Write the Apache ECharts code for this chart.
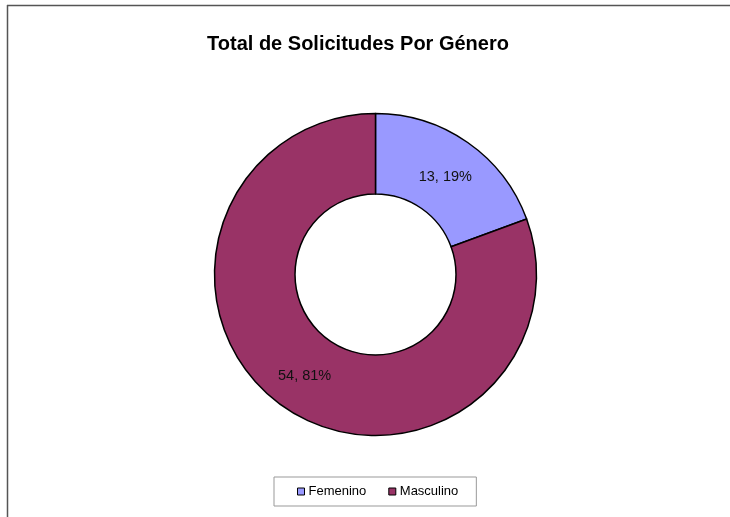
<!DOCTYPE html>
<html>
<head>
<meta charset="utf-8">
<script src="https://cdn.jsdelivr.net/npm/echarts@6/dist/echarts.min.js"></script>
<style>
html,body{margin:0;padding:0;background:#fff;}
#c{width:730px;height:517px;}
</style>
</head>
<body>
<div id="c"></div>
<script>
var titleText = 'Total de Solicitudes Por Género';
var categories = ['Femenino', 'Masculino'];
var values = [13, 54];
var colors = ['#9999FF', '#993366'];

var chart = echarts.init(document.getElementById('c'), null, {renderer: 'canvas'});
var font = '"Liberation Sans", Arial, sans-serif';
var labelOffsets = [[-1, 4], [0, 0]];
chart.setOption({
  animation: false,
  backgroundColor: '#fff',
  textStyle: {fontFamily: font},
  title: {
    text: titleText,
    left: 358,
    textAlign: 'center',
    top: 34,
    padding: 0,
    textStyle: {fontFamily: font, fontSize: 20, fontWeight: 'bold', color: '#000'}
  },
  legend: {
    data: categories,
    left: 274,
    top: 477,
    orient: 'horizontal',
    borderColor: '#999',
    borderWidth: 1,
    padding: [8, 18, 8, 23],
    itemWidth: 7,
    itemHeight: 7,
    itemGap: 22,
    icon: 'rect',
    itemStyle: {borderColor: '#000', borderWidth: 1},
    textStyle: {fontFamily: font, fontSize: 13, color: '#000', padding: [0, 0, 0, -1]}
  },
  graphic: [
    {type: 'line', shape: {x1: 7, y1: 5.5, x2: 730, y2: 5.5}, style: {stroke: '#555', lineWidth: 1.5}, silent: true},
    {type: 'line', shape: {x1: 7.5, y1: 5, x2: 7.5, y2: 517}, style: {stroke: '#555', lineWidth: 1.5}, silent: true}
  ],
  series: [{
    type: 'pie',
    center: [375.5, 274.5],
    radius: [80.5, 161],
    startAngle: 90,
    clockwise: true,
    percentPrecision: 0,
    avoidLabelOverlap: false,
    itemStyle: {borderColor: '#000', borderWidth: 1.5},
    label: {
      show: true,
      position: 'inside',
      formatter: '{c}, {d}%',
      fontFamily: font,
      fontSize: 14.5,
      color: '#111'
    },
    labelLine: {show: false},
    emphasis: {disabled: true},
    data: categories.map(function (n, i) {
      return {name: n, value: values[i], itemStyle: {color: colors[i]}, label: {offset: labelOffsets[i]}};
    })
  }]
});
</script>
</body>
</html>
